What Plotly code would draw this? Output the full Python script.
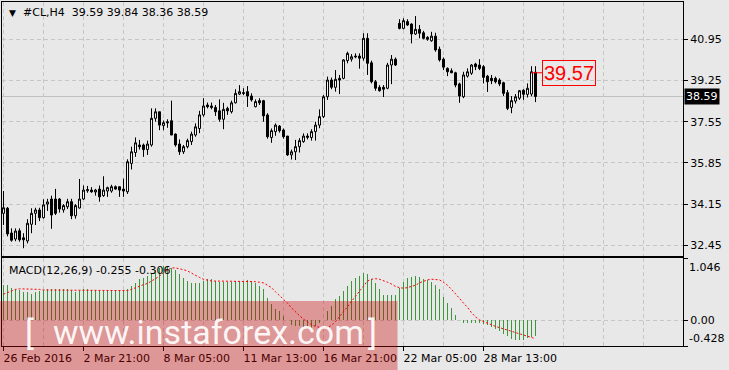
import plotly.graph_objects as go

# ---------------- data ----------------
opens = [33.77,33.98,32.96,32.71,33.05,32.76,32.63,33.32,33.77,33.91,
         33.59,34.15,34.36,34.36,34.36,33.91,34.04,34.25,33.67,33.99,
         34.36,34.70,34.73,34.65,34.77,34.50,34.69,34.69,34.87,34.87,
         34.77,34.66,35.83,36.28,36.59,36.59,36.40,36.59,37.69,37.96,
         37.39,37.55,37.59,37.04,36.63,36.31,36.52,36.73,37.00,37.27,
         37.83,38.24,38.20,38.14,38.00,37.65,38.10,37.96,38.33,38.69,
         38.75,38.79,38.61,38.17,38.42,38.42,37.83,36.90,37.14,37.37,
         37.21,36.96,36.18,36.31,36.52,36.73,36.90,36.90,37.14,37.41,
         37.76,38.58,39.27,38.97,39.34,39.34,40.07,40.13,40.26,40.26,
         40.17,40.99,39.98,39.20,38.97,38.97,38.93,39.89,40.13,41.61,
         41.40,41.68,41.58,41.17,41.36,41.22,41.03,40.89,41.08,40.54,
         40.13,39.75,39.65,39.57,39.11,38.58,39.43,39.55,39.93,39.89,
         39.82,39.43,39.34,39.34,39.27,39.16,38.75,38.14,38.40,38.52,
         38.85,38.68,38.69,39.59]
highs = [34.69,34.03,33.15,33.15,33.15,32.95,33.53,33.98,34.00,34.00,
         34.35,34.37,34.50,34.78,34.40,34.15,34.37,34.37,34.15,35.19,
         34.92,34.90,34.85,34.78,34.92,35.30,34.87,34.95,34.92,34.87,
         35.20,36.00,36.52,36.90,36.80,36.65,36.77,38.10,38.10,37.96,
         37.60,37.65,38.42,37.07,36.82,36.59,36.85,37.14,37.48,38.00,
         38.52,38.34,38.34,38.24,38.47,38.33,38.17,38.42,38.89,39.06,
         38.93,39.02,38.72,38.47,38.52,38.45,37.90,37.27,37.48,37.41,
         37.27,36.96,36.40,36.80,36.87,37.07,37.07,37.24,37.55,38.06,
         38.65,39.41,39.37,39.68,39.48,40.13,40.44,40.34,40.37,40.37,
         41.20,41.20,40.07,39.27,39.06,39.06,39.98,40.30,40.20,41.78,
         41.82,41.78,41.61,41.91,41.54,41.30,41.08,41.26,41.22,40.65,
         40.20,39.79,39.75,39.61,39.16,39.61,39.75,39.93,39.98,40.13,
         39.89,39.48,39.48,39.41,39.34,39.20,38.86,38.61,38.69,38.86,
         38.89,39.13,39.84,39.84]
lows = [33.29,32.82,32.60,32.62,32.60,32.33,32.53,32.95,33.29,33.45,
        33.55,33.87,33.13,33.70,33.80,33.80,33.95,33.53,33.55,33.97,
        34.32,34.62,34.62,34.50,34.25,34.45,34.45,34.62,34.75,34.45,
        34.45,34.57,35.58,36.10,36.40,36.10,36.18,36.52,37.55,37.20,
        37.20,37.30,37.00,36.52,36.18,36.22,36.45,36.59,36.93,37.08,
        37.76,38.10,38.06,37.79,37.55,37.24,37.83,37.89,38.30,38.65,
        38.65,38.16,38.38,38.14,38.24,37.55,36.85,36.68,36.97,37.10,
        36.85,36.14,35.99,35.97,36.28,36.68,36.82,36.77,36.77,37.28,
        37.70,38.45,38.89,38.79,38.69,39.30,39.96,40.03,40.17,39.74,
        40.07,39.48,39.13,38.83,38.79,38.57,38.89,39.10,39.85,41.36,
        41.36,41.50,40.78,41.13,40.99,40.95,40.89,40.85,40.44,40.03,
        39.68,39.43,39.55,38.97,38.33,38.52,39.37,39.48,39.68,39.68,
        39.13,38.78,39.10,39.13,39.02,38.61,38.03,37.90,38.30,38.45,
        38.45,38.55,38.60,38.36]
closes = [34.00,32.92,32.66,33.04,32.68,32.68,33.36,33.77,33.91,33.59,
          34.12,34.24,33.70,33.77,33.95,34.09,34.25,33.67,34.09,34.36,
          34.73,34.75,34.66,34.73,34.45,34.73,34.83,34.87,34.77,34.73,
          34.69,35.90,36.31,36.68,36.52,36.40,36.63,37.69,37.96,37.41,
          37.51,37.51,37.00,36.59,36.31,36.52,36.77,37.04,37.34,37.83,
          38.20,38.17,38.14,37.96,37.65,38.06,38.00,38.33,38.72,38.79,
          38.72,38.61,38.45,38.38,38.33,37.79,36.93,37.18,37.41,37.18,
          36.93,36.18,36.31,36.52,36.77,36.96,36.96,37.14,37.41,37.76,
          38.58,39.27,38.97,39.30,39.27,40.10,40.37,40.23,40.23,40.17,
          40.99,39.96,39.20,38.93,38.83,38.89,39.89,40.13,39.89,41.40,
          41.72,41.54,41.17,41.36,41.20,40.99,40.95,41.08,40.51,40.10,
          39.80,39.61,39.57,39.06,38.61,39.48,39.61,39.89,39.82,39.75,
          39.38,39.20,39.24,39.20,39.11,38.72,38.10,38.42,38.58,38.83,
          38.68,38.93,39.61,38.59]

macd_hist = [0.60,0.59,0.55,0.53,0.51,0.48,0.47,0.45,0.47,0.49,
             0.51,0.53,0.53,0.53,0.53,0.53,0.52,0.51,0.48,0.50,
             0.53,0.52,0.51,0.51,0.50,0.50,0.50,0.51,0.51,0.50,
             0.50,0.53,0.58,0.63,0.69,0.71,0.74,0.79,0.84,0.88,
             0.91,0.91,0.88,0.84,0.77,0.71,0.66,0.63,0.62,0.63,
             0.66,0.69,0.69,0.66,0.64,0.64,0.64,0.65,0.66,0.66,
             0.66,0.67,0.66,0.63,0.58,0.52,0.37,0.27,0.20,0.15,
             0.08,0.01,-0.07,-0.10,-0.10,-0.12,-0.14,-0.12,-0.10,-0.05,
             0.00,0.16,0.24,0.36,0.41,0.49,0.58,0.66,0.71,0.74,
             0.80,0.78,0.70,0.63,0.53,0.43,0.43,0.43,0.43,0.55,
             0.64,0.71,0.72,0.74,0.73,0.70,0.68,0.64,0.59,0.52,
             0.40,0.30,0.21,0.09,0.005,-0.05,-0.05,-0.05,-0.04,-0.05,
             -0.06,-0.08,-0.11,-0.14,-0.17,-0.22,-0.26,-0.31,-0.33,-0.32,
             -0.32,-0.30,-0.27,-0.255]
macd_signal = [0.44,0.47,0.50,0.52,0.53,0.53,0.52,0.52,0.52,0.52,
               0.51,0.51,0.51,0.51,0.51,0.51,0.51,0.51,0.51,0.51,
               0.51,0.51,0.51,0.51,0.51,0.51,0.51,0.51,0.50,0.50,
               0.50,0.50,0.52,0.55,0.58,0.60,0.62,0.66,0.70,0.74,
               0.80,0.84,0.88,0.88,0.87,0.85,0.83,0.79,0.75,0.72,
               0.69,0.67,0.66,0.66,0.66,0.66,0.66,0.66,0.66,0.66,
               0.66,0.66,0.66,0.65,0.64,0.63,0.59,0.55,0.48,0.42,
               0.36,0.29,0.21,0.14,0.08,0.02,-0.03,-0.07,-0.10,-0.12,
               -0.13,-0.12,-0.08,-0.02,0.06,0.14,0.23,0.32,0.41,0.50,
               0.58,0.66,0.69,0.70,0.69,0.67,0.64,0.61,0.57,0.55,
               0.54,0.55,0.57,0.59,0.63,0.66,0.68,0.69,0.69,0.68,
               0.64,0.59,0.52,0.45,0.37,0.29,0.22,0.13,0.06,0.01,
               -0.02,-0.05,-0.08,-0.10,-0.12,-0.14,-0.16,-0.18,-0.21,-0.23,
               -0.25,-0.26,-0.28,-0.306]

bar_index = list(range(len(closes)))
time_tick_index = [0, 20, 40, 60, 80, 100, 120]
time_tick_labels = ["26 Feb 2016", "2 Mar 21:00", "8 Mar 05:00", "11 Mar 13:00",
                    "16 Mar 21:00", "22 Mar 05:00", "28 Mar 13:00"]
price_ticks = [40.95, 39.25, 37.55, 35.85, 34.15, 32.45]
macd_ticks = [1.046, 0.0, -0.428]
symbol_title = "#CL,H4\u00a0\u00a039.59 39.84 38.36 38.59"
macd_title = "MACD(12,26,9) -0.255 -0.306"
marker_price = 39.57
last_price = closes[-1]

# ---------------- geometry helpers (pixel -> paper) ----------------
W, H = 729, 370
ML, MR, MT, MB = 2, 46, 2, 24
PW, PH = W - ML - MR, H - MT - MB
def px(x):
    return (x - ML) / PW
def py(y):
    return (H - MB - y) / PH

BG = "#e8e8e8"
GRID = "#c6c6c6"
FONT = "DejaVu Sans"

fig = go.Figure()
fig.add_trace(go.Candlestick(
    x=bar_index, open=opens, high=highs, low=lows, close=closes,
    increasing=dict(line=dict(color="black", width=1), fillcolor="white"),
    decreasing=dict(line=dict(color="black", width=1), fillcolor="black"),
    whiskerwidth=0, hoverinfo="skip", xaxis="x", yaxis="y"))
fig.add_trace(go.Bar(
    x=bar_index, y=macd_hist, width=0.25, marker=dict(color="#3a983a", line=dict(width=0)),
    hoverinfo="skip", xaxis="x2", yaxis="y2"))
fig.add_trace(go.Scatter(
    x=bar_index, y=macd_signal, mode="lines",
    line=dict(color="#ff0000", width=1, dash="2px,2px"),
    hoverinfo="skip", xaxis="x2", yaxis="y2"))

xr = [-0.375, -0.375 + PW / 4.0]
main_dom = [py(256), 1]
macd_dom = [0, py(258)]

fig.update_layout(
    width=W, height=H, margin=dict(l=ML, r=MR, t=MT, b=MB, pad=0, autoexpand=False),
    paper_bgcolor=BG, plot_bgcolor=BG, showlegend=False, bargap=0,
    font=dict(family=FONT, size=11, color="black"),
    xaxis=dict(domain=[0, 1], anchor="y", range=xr, tickvals=list(range(0, 170, 10)),
               showticklabels=False, ticks="", showgrid=True, gridcolor=GRID,
               griddash="4px,3px", gridwidth=1, zeroline=False, showline=True,
               linecolor="black", linewidth=1, mirror=True, automargin=False,
               rangeslider=dict(visible=False), fixedrange=True),
    yaxis=dict(domain=main_dom, anchor="x", side="right", range=[32.01, 42.489],
               tickvals=price_ticks, ticktext=[f"{v:.2f}" for v in price_ticks],
               ticks="outside", ticklen=4, tickcolor="black", showgrid=True,
               gridcolor=GRID, griddash="4px,3px", zeroline=False, showline=True,
               linecolor="black", linewidth=1, mirror=True, automargin=False,
               tickfont=dict(family=FONT, size=11, color="black"), fixedrange=True),
    xaxis2=dict(domain=[0, 1], anchor="y2", matches="x", range=xr,
                tickvals=time_tick_index, ticktext=time_tick_labels, tickangle=0,
                ticklabelposition="outside right", ticklabelstandoff=2,
                ticklabelshift=-1, ticks="outside", ticklen=4,
                tickcolor="black", showgrid=True, gridcolor=GRID, griddash="4px,3px",
                minor=dict(tick0=0, dtick=10, showgrid=True, gridcolor=GRID,
                           griddash="4px,3px", ticks=""),
                zeroline=False, showline=True, linecolor="black", linewidth=1,
                mirror=True, automargin=False,
                tickfont=dict(family=FONT, size=11, color="black"),
                fixedrange=True),
    yaxis2=dict(domain=macd_dom, anchor="x2", side="right", range=[-0.428, 1.046],
                tickvals=macd_ticks, ticktext=["", "0.00", ""], ticks="outside",
                ticklen=4, tickcolor="black", showgrid=True, gridcolor=GRID,
                griddash="4px,3px", zeroline=False, showline=True, linecolor="black",
                linewidth=1, mirror=True, automargin=False,
                tickfont=dict(family=FONT, size=11, color="black"),
                fixedrange=True),
)

shapes = [
    dict(type="line", xref="x domain", yref="y", x0=0, x1=1, y0=last_price, y1=last_price,
         line=dict(color="#c0c0c0", width=1), layer="below"),
    dict(type="line", xref="x", yref="y", x0=bar_index[-2], x1=134.7,
         y0=marker_price, y1=marker_price, line=dict(color="#ff0000", width=1)),
    dict(type="rect", xref="paper", yref="paper", x0=px(0), x1=px(397.5),
         y0=py(370), y1=py(301), fillcolor="rgba(200,0,0,0.35)",
         line=dict(width=0), layer="above"),
]
fig.update_layout(shapes=shapes)

ann = []
def A(text, x, y, size=11, color="black", xanchor="left", yanchor="middle", family=FONT, **kw):
    d = dict(text=text, x=x, y=y, xref="paper", yref="paper", showarrow=False,
             xanchor=xanchor, yanchor=yanchor, font=dict(family=family, size=size, color=color))
    d.update(kw)
    ann.append(d)

A("\u25BC", px(7), py(12.5), size=9)
A(symbol_title, px(21), py(12.8))
A(macd_title, px(6.5), py(270))
A(f"{macd_ticks[0]:.3f}", px(687), py(267.5))
A(f"{macd_ticks[2]:.3f}", px(686.5), py(338.5))
A(f"{last_price:.2f}", px(684), py(96.8), color="white", bgcolor="black", borderpad=1)
ann.append(dict(text=f"{marker_price:.2f}", x=134.7, y=marker_price, xref="x", yref="y",
                showarrow=False, xanchor="left", yanchor="middle",
                font=dict(family="Liberation Sans", size=20, color="#ff0000"),
                bordercolor="#ff0000", borderwidth=1, borderpad=1))
# watermark
WM = "rgba(255,255,255,0.92)"
A("[", px(23), py(332.5), size=34, color=WM, family="Roboto")
A("www.instaforex.com", px(51), py(332), size=34, color=WM, family="Roboto")
A("]", px(366), py(332.5), size=34, color=WM, family="Roboto")
fig.update_layout(annotations=ann)

fig.write_html("out.html", config={"displayModeBar": False, "staticPlot": True})
